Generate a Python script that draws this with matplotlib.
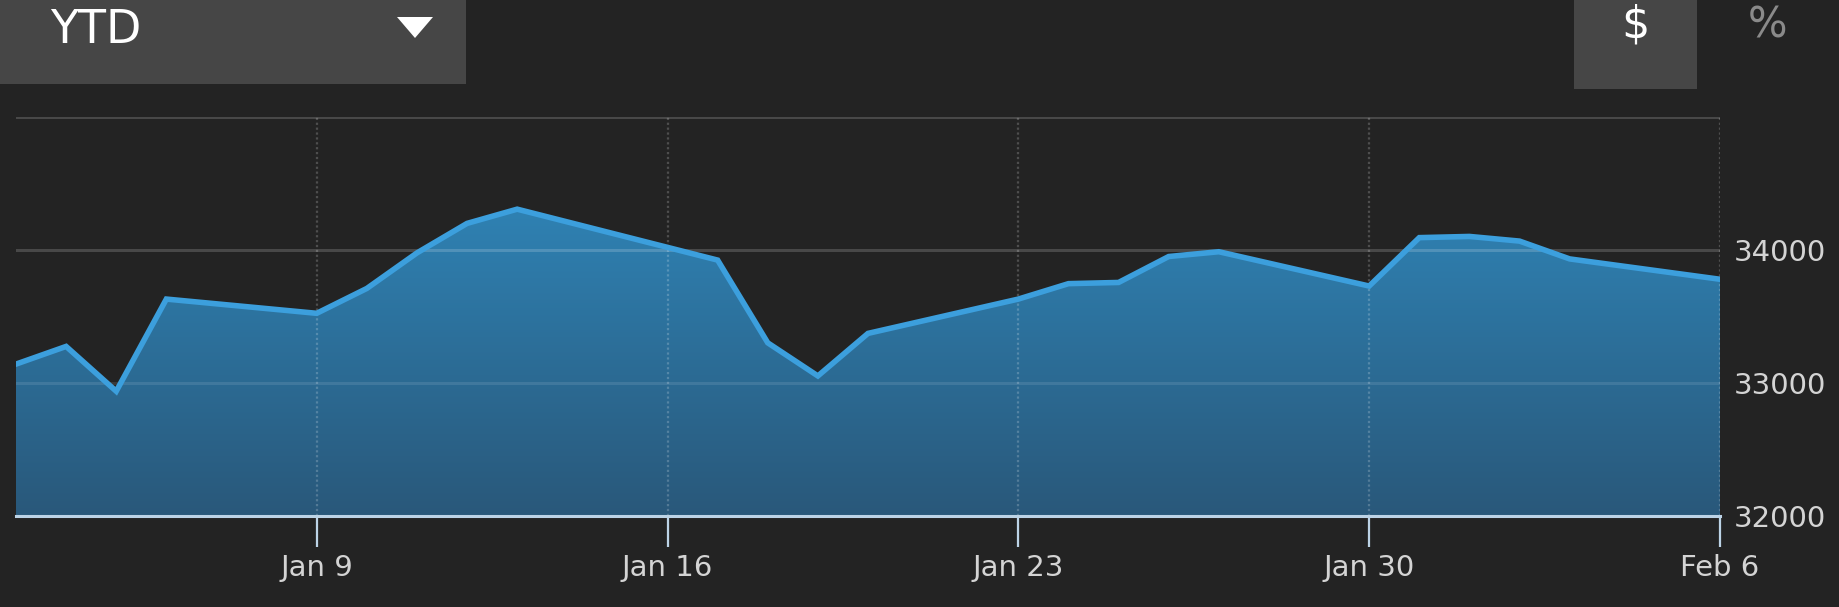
import numpy as np
import pandas as pd
import matplotlib
matplotlib.use("Agg")
import matplotlib.pyplot as plt
import matplotlib.dates as mdates
from matplotlib.patches import Rectangle, Polygon

# closing values
dates = ["2023-01-03", "2023-01-04", "2023-01-05", "2023-01-06", "2023-01-09",
         "2023-01-10", "2023-01-11", "2023-01-12", "2023-01-13", "2023-01-17",
         "2023-01-18", "2023-01-19", "2023-01-20", "2023-01-23", "2023-01-24",
         "2023-01-25", "2023-01-26", "2023-01-27", "2023-01-30", "2023-01-31",
         "2023-02-01", "2023-02-02", "2023-02-03", "2023-02-06"]
values = [33142, 33275, 32938, 33631, 33524,
          33711, 33978, 34200, 34307, 33924,
          33302, 33053, 33373, 33631, 33747,
          33756, 33951, 33987, 33729, 34093,
          34102, 34067, 33933, 33780]
tick_dates = ["2023-01-09", "2023-01-16", "2023-01-23", "2023-01-30", "2023-02-06"]
tick_labels = ["Jan 9", "Jan 16", "Jan 23", "Jan 30", "Feb 6"]
y_ticks = [32000, 33000, 34000]
y_min, y_max = 32000, 35000

W, H = 1839, 607
BG = "#232323"

x = mdates.date2num(pd.to_datetime(dates))
xt = mdates.date2num(pd.to_datetime(tick_dates))

fig = plt.figure(figsize=(W / 100, H / 100), dpi=100, facecolor=BG)
ax = fig.add_axes([16 / W, 1 - 516 / H, (1720 - 16) / W, (516 - 117) / H])
ax.set_facecolor(BG)
ax.set_xlim(x[0], x[-1])
ax.set_ylim(y_min, y_max)

# gradient fill under the line
verts = [(x[0], y_min)] + list(zip(x, values)) + [(x[-1], y_min)]
poly = Polygon(verts, closed=True, facecolor="none", edgecolor="none")
ax.add_patch(poly)
grad = np.linspace(1, 0, 256).reshape(-1, 1)
cmap = matplotlib.colors.LinearSegmentedColormap.from_list("g", ["#29587a", "#2f83b5"])
img = ax.imshow(grad, cmap=cmap, aspect="auto", origin="upper",
                extent=[x[0], x[-1], y_min, 34400], zorder=1)
img.set_clip_path(poly)

# grid
for yv in [34000, 35000]:
    ax.axhline(yv, color="white", alpha=0.17, lw=2.2, zorder=2)
ax.axhline(33000, color="white", alpha=0.1, lw=2.2, zorder=2)
for xv in xt:
    ax.axvline(xv, color="white", alpha=0.2, lw=1.6, ls=(0, (1, 1.2)), zorder=2)

ax.plot(x, values, color="#3c9fdd", lw=4, solid_joinstyle="miter", zorder=3)

for s in ["top", "left", "right"]:
    ax.spines[s].set_visible(False)
ax.spines["bottom"].set_color("#bcd3e6")
ax.spines["bottom"].set_linewidth(2.2)
ax.spines["bottom"].set_zorder(4)

ax.set_xticks(xt)
ax.set_xticklabels(tick_labels)
ax.tick_params(axis="x", colors="#bcd3e6", length=22, width=1.6, pad=5,
               labelsize=21, labelcolor="#d4d4d4")
ax.yaxis.tick_right()
ax.set_yticks(y_ticks)
ax.tick_params(axis="y", length=0, pad=10, labelsize=21, labelcolor="#d4d4d4")

# header controls
fig.add_artist(Rectangle((0, 1 - 84 / H), 466 / W, 84 / H, transform=fig.transFigure,
                         facecolor="#464646", edgecolor="none"))
fig.text(50 / W, 1 - 43 / H, "YTD", color="white", fontsize=33, va="baseline", ha="left")
tri = Polygon([(397 / W, 1 - 17 / H), (433 / W, 1 - 17 / H), (415 / W, 1 - 38 / H)],
              closed=True, transform=fig.transFigure, facecolor="white", edgecolor="none")
fig.add_artist(tri)
fig.add_artist(Rectangle((1574 / W, 1 - 89 / H), 123 / W, 89 / H, transform=fig.transFigure,
                         facecolor="#464646", edgecolor="none"))
fig.text(1635 / W, 1 - 38 / H, "$", color="white", fontsize=32, va="baseline", ha="center")
fig.text(1767 / W, 1 - 37 / H, "%", color="#8a8a8a", fontsize=30, va="baseline", ha="center")

fig.savefig("out.png", dpi=100, facecolor=BG)
